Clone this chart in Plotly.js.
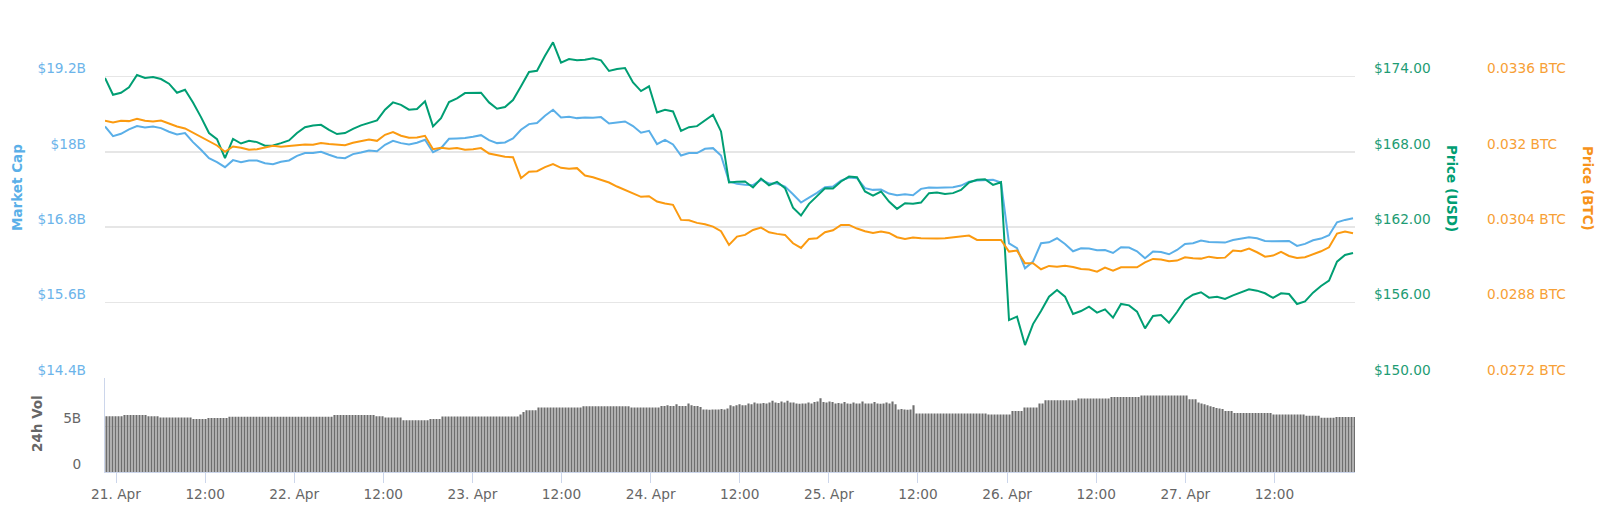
<!DOCTYPE html>
<html><head><meta charset="utf-8">
<script src="https://cdn.plot.ly/plotly-3.0.1.min.js"></script>
<style>html,body{margin:0;padding:0;background:#fff}#chart{width:1600px;height:507px}</style>
</head><body><div id="chart"></div>
<script>
// Market cap in billions USD
const mcapB = [
18.404,18.249,18.287,18.356,18.409,18.388,18.404,18.377,18.319,18.276,
18.297,18.154,18.032,17.899,17.835,17.755,17.867,17.835,17.862,17.862,
17.819,17.803,17.840,17.862,17.936,17.979,17.979,18.000,17.952,17.910,
17.899,17.963,17.989,18.021,18.010,18.111,18.175,18.138,18.117,18.143,
18.191,17.994,18.058,18.207,18.212,18.218,18.239,18.265,18.186,18.138,
18.149,18.212,18.350,18.441,18.457,18.574,18.669,18.547,18.558,18.536,
18.547,18.542,18.552,18.451,18.467,18.483,18.409,18.303,18.334,18.122,
18.191,18.117,17.941,17.979,17.979,18.048,18.058,17.941,17.527,17.490,
17.474,17.469,17.554,17.495,17.495,17.447,17.325,17.192,17.272,17.346,
17.437,17.447,17.543,17.591,17.580,17.421,17.394,17.400,17.336,17.309,
17.325,17.309,17.410,17.431,17.426,17.437,17.437,17.463,17.522,17.543,
17.543,17.554,17.511,16.544,16.465,16.146,16.252,16.544,16.560,16.624,
16.534,16.417,16.465,16.459,16.433,16.438,16.390,16.481,16.475,16.417,
16.305,16.412,16.406,16.369,16.438,16.534,16.544,16.587,16.566,16.566,
16.555,16.597,16.619,16.640,16.624,16.582,16.576,16.576,16.582,16.502,
16.534,16.592,16.619,16.672,16.879,16.916,16.943];

// Price in USD
const priceUsd = [
173.87,172.54,172.70,173.13,174.11,173.87,173.95,173.79,173.42,172.70,
172.94,171.93,170.76,169.49,169.01,167.49,169.03,168.66,168.88,168.77,
168.48,168.50,168.69,168.90,169.49,169.96,170.10,170.15,169.75,169.41,
169.49,169.83,170.10,170.31,170.50,171.35,171.93,171.74,171.35,171.40,
172.01,170.02,170.68,171.96,172.25,172.67,172.67,172.70,171.93,171.43,
171.56,172.12,173.21,174.35,174.45,175.65,176.71,175.09,175.38,175.28,
175.33,175.44,175.28,174.43,174.59,174.67,173.52,172.83,173.21,171.13,
171.35,171.21,169.67,169.96,170.04,170.47,170.95,169.62,165.56,165.61,
165.64,165.16,165.87,165.34,165.61,165.10,163.56,162.93,163.86,164.47,
165.10,165.08,165.64,166.03,165.98,164.84,164.52,164.84,164.04,163.46,
163.91,163.86,163.96,164.71,164.76,164.65,164.71,164.97,165.56,165.77,
165.82,165.37,165.58,154.61,154.88,152.62,154.29,155.33,156.47,157.00,
156.47,155.09,155.33,155.68,155.20,155.46,154.80,155.89,155.78,155.28,
153.95,154.93,155.01,154.40,155.25,156.21,156.63,156.82,156.39,156.47,
156.29,156.58,156.79,157.06,156.95,156.74,156.37,156.74,156.68,155.89,
156.10,156.79,157.32,157.75,159.26,159.79,159.95];

// Price in BTC
const priceBtc = [
0.032658,0.032623,0.032658,0.032651,0.032703,0.032658,0.032644,0.032665,0.032601,0.032538,
0.032495,0.032403,0.032304,0.032226,0.032134,0.032000,0.032113,0.032085,0.032042,0.032056,
0.032092,0.032127,0.032106,0.032127,0.032134,0.032155,0.032149,0.032184,0.032163,0.032155,
0.032141,0.032191,0.032219,0.032262,0.032233,0.032361,0.032418,0.032340,0.032297,0.032304,
0.032340,0.032056,0.032085,0.032063,0.032078,0.032042,0.032056,0.032078,0.031964,0.031922,
0.031894,0.031886,0.031440,0.031575,0.031589,0.031674,0.031738,0.031660,0.031639,0.031653,
0.031497,0.031461,0.031405,0.031348,0.031263,0.031192,0.031121,0.031044,0.031058,0.030944,
0.030902,0.030874,0.030555,0.030548,0.030491,0.030463,0.030413,0.030314,0.030024,0.030201,
0.030236,0.030342,0.030392,0.030292,0.030258,0.030236,0.030059,0.029959,0.030151,0.030165,
0.030292,0.030335,0.030449,0.030449,0.030371,0.030314,0.030279,0.030307,0.030279,0.030187,
0.030151,0.030180,0.030165,0.030158,0.030158,0.030165,0.030187,0.030201,0.030222,0.030130,
0.030130,0.030130,0.030130,0.029882,0.029903,0.029634,0.029634,0.029507,0.029578,0.029563,
0.029584,0.029556,0.029514,0.029500,0.029457,0.029542,0.029479,0.029549,0.029549,0.029549,
0.029655,0.029726,0.029712,0.029677,0.029691,0.029761,0.029740,0.029733,0.029775,0.029747,
0.029754,0.029903,0.029889,0.029946,0.029868,0.029775,0.029797,0.029875,0.029790,0.029747,
0.029761,0.029825,0.029889,0.029974,0.030264,0.030307,0.030272];

// 24h volume in billions USD
const vol24hB = [
6.1,6.1,6.1,6.1,6.1,6.1,
6.24,6.24,6.24,6.24,6.24,6.24,6.24,6.24,
6.1,6.1,6.1,6.1,
5.95,5.95,5.95,5.95,5.95,5.95,5.95,5.95,5.95,5.95,5.95,
5.8,5.8,5.8,5.8,5.8,
5.9,5.9,5.9,5.9,5.9,5.9,5.9,
6.05,6.05,6.05,6.05,6.05,6.05,6.05,6.05,6.05,6.05,6.05,6.05,6.05,6.05,6.05,6.05,6.05,6.05,
6.05,6.05,6.05,6.05,6.05,6.05,6.05,6.05,6.05,6.05,6.05,6.05,6.05,6.05,6.05,6.05,6.05,
6.24,6.24,6.24,6.24,6.24,6.24,6.24,6.24,6.24,6.24,6.24,6.24,6.24,6.24,
6.1,6.1,6.1,
5.95,5.95,5.95,5.95,5.95,5.95,
5.66,5.66,5.66,5.66,5.66,5.66,5.66,5.66,5.66,
5.8,5.8,5.8,5.8,
6.07,6.07,6.07,6.07,6.07,6.07,6.07,6.07,6.07,6.07,6.07,6.07,6.07,
6.07,6.07,6.07,6.07,6.07,6.07,6.07,6.07,6.07,6.07,6.07,6.07,6.07,
6.3,6.56,
6.75,6.75,6.75,6.75,
7.05,7.05,7.05,7.05,7.05,7.05,7.05,7.05,7.05,7.05,7.05,7.05,7.05,7.05,7.05,
7.19,7.19,7.19,7.19,7.19,7.19,7.19,7.19,7.19,7.19,7.19,7.19,7.19,7.19,7.19,7.19,
7.05,7.05,7.05,7.05,7.05,7.05,7.05,7.05,7.05,7.05,
7.22,7.22,7.3,7.22,7.22,7.4,7.22,7.22,7.22,7.48,7.3,7.22,7.22,7.1,
6.83,6.83,6.8,6.83,6.83,6.83,6.9,6.83,6.95,
7.3,7.2,7.3,7.4,7.3,7.3,
7.48,7.4,7.6,7.48,7.48,7.55,7.48,
7.6,7.8,7.6,7.55,7.7,7.6,7.8,7.6,7.6,
7.48,7.45,7.5,7.48,7.6,7.48,
7.66,7.7,8.06,7.66,7.6,7.7,7.66,
7.48,7.55,7.48,7.66,7.48,7.45,7.6,7.48,7.48,7.7,7.48,7.5,7.48,7.66,7.48,7.45,7.48,7.6,7.48,7.7,7.4,
6.83,6.9,6.83,6.8,6.83,
7.3,
6.39,6.39,6.39,6.39,6.39,6.39,6.39,6.39,6.39,6.39,6.39,6.39,
6.39,6.39,6.39,6.39,6.39,6.39,6.39,6.39,6.39,6.39,6.39,6.39,
6.28,6.28,6.28,6.28,6.28,6.28,6.28,6.28,
6.67,6.67,6.67,6.67,
7.05,7.05,7.05,7.05,7.05,
7.48,7.48,
7.85,7.85,7.85,7.85,7.85,7.85,7.85,7.85,7.85,7.85,7.85,
8.03,8.03,8.03,8.03,8.03,8.03,8.03,8.03,8.03,8.03,8.03,
8.2,8.2,8.2,8.2,8.2,8.2,8.2,8.2,8.2,8.2,
8.36,8.36,8.36,8.36,8.36,8.36,8.36,8.36,8.36,8.36,8.36,8.36,8.36,8.36,8.36,8.36,
7.95,7.95,7.95,
7.6,7.5,7.4,7.3,7.2,7.1,7.0,6.95,6.9,
6.67,6.67,6.67,
6.46,6.46,6.46,6.46,6.46,6.46,6.46,6.46,6.46,6.46,6.46,6.46,6.46,
6.28,6.28,6.28,6.28,6.28,6.28,6.28,6.28,6.28,6.28,6.28,
6.14,6.14,6.14,6.14,6.14,
5.92,5.92,5.92,5.92,5.92,
6.02,6.02,6.02,6.02,6.02,6.02,6.02];

// Axis ticks
const xTickLabels = ['21. Apr','12:00','22. Apr','12:00','23. Apr','12:00','24. Apr','12:00','25. Apr','12:00','26. Apr','12:00','27. Apr','12:00'];
const mcapTicks = [14.4, 15.6, 16.8, 18, 19.2, 20.4];
const mcapTickText = ['$14.4B','$15.6B','$16.8B','$18B','$19.2B',''];
const usdTicks = [150, 156, 162, 168, 174, 180];
const usdTickText = ['$150.00','$156.00','$162.00','$168.00','$174.00',''];
const btcTicks = [0.0272, 0.0288, 0.0304, 0.032, 0.0336, 0.0352];
const btcTickText = ['0.0272 BTC','0.0288 BTC','0.0304 BTC','0.032 BTC','0.0336 BTC',''];
const volTicks = [0, 5];
const volTickText = ['0', '5B'];

// Sampling of the series in time (hours after 21 Apr 2019 00:00)
const LINE_START_H = -1.4813, LINE_STEP_H = 1.07734;
const VOL_START_H = -1.279, VOL_STEP_H = 0.404;
const T0 = Date.UTC(2019, 3, 21, 0, 0, 0);
function hDate(h) { return new Date(T0 + h * 3600000).toISOString().slice(0, 19).replace('T', ' '); }
const lineTimes = mcapB.map((_, i) => hDate(LINE_START_H + i * LINE_STEP_H));
const volTimes = vol24hB.map((_, j) => hDate(VOL_START_H + j * VOL_STEP_H));
const xTickVals = xTickLabels.map((_, k) => hDate(12 * k));

const FONT = 'DejaVu Sans, Verdana, sans-serif';
const BLUE = '#5aafe8', GREEN = '#009e73', ORANGE = '#fb9a10';

const traces = [
  {type: 'bar', x: volTimes, y: vol24hB, xaxis: 'x', yaxis: 'y4', marker: {color: '#6e6e6e', line: {width: 0}}, hoverinfo: 'skip'},
  {type: 'scatter', mode: 'lines', x: lineTimes, y: mcapB, xaxis: 'x', yaxis: 'y', line: {color: BLUE, width: 2}},
  {type: 'scatter', mode: 'lines', x: lineTimes, y: priceBtc, xaxis: 'x', yaxis: 'y3', line: {color: ORANGE, width: 2}},
  {type: 'scatter', mode: 'lines', x: lineTimes, y: priceUsd, xaxis: 'x', yaxis: 'y2', line: {color: GREEN, width: 2}}
];

const tickF = (c) => ({family: FONT, size: 13.7, color: c});
const titleF = (c) => ({family: FONT, size: 13.5, color: c, weight: 'bold'});

const layout = {
  width: 1600, height: 507,
  margin: {l: 105, r: 245, t: 1, b: 35, pad: 0},
  paper_bgcolor: '#ffffff', plot_bgcolor: '#ffffff',
  showlegend: false, bargap: 0.3,
  xaxis: {
    type: 'date', anchor: 'y4',
    range: [hDate(-1.4813), hDate(166.85)],
    tickmode: 'array', tickvals: xTickVals, ticktext: xTickLabels,
    showgrid: false, zeroline: false,
    showline: true, linecolor: '#ccd6eb', linewidth: 1,
    ticks: 'outside', ticklen: 10, tickwidth: 1, tickcolor: '#ccd6eb',
    tickfont: tickF('#666666')
  },
  yaxis: {
    domain: [0.1996, 1], range: [14.4, 20.4], anchor: 'x',
    tickmode: 'array', tickvals: mcapTicks, ticktext: mcapTickText,
    showgrid: true, gridcolor: '#e6e6e6', gridwidth: 1.5,
    zeroline: false, showline: false, ticks: '',
    tickfont: tickF('#6cb4ea'), ticklabelstandoff: 18, ticklabelshift: -8
  },
  yaxis2: {
    overlaying: 'y', side: 'right', anchor: 'x', range: [150, 180],
    tickmode: 'array', tickvals: usdTicks, ticktext: usdTickText,
    showgrid: false, zeroline: false, showline: false, ticks: '',
    tickfont: tickF('#1e9c74'), ticklabelstandoff: 18, ticklabelshift: -8
  },
  yaxis3: {
    overlaying: 'y', side: 'right', anchor: 'free', position: 1, autoshift: false, shift: 113,
    range: [0.0272, 0.0352],
    tickmode: 'array', tickvals: btcTicks, ticktext: btcTickText,
    showgrid: false, zeroline: false, showline: false, ticks: '',
    tickfont: tickF('#f7a035'), ticklabelstandoff: 18, ticklabelshift: -8
  },
  yaxis4: {
    domain: [0, 0.2], range: [0, 10.3], anchor: 'x',
    tickmode: 'array', tickvals: volTicks, ticktext: volTickText,
    showgrid: true, gridcolor: '#e6e6e6', gridwidth: 1,
    zeroline: false, showline: true, linecolor: '#ccd6eb', linewidth: 1, ticks: '',
    tickfont: tickF('#666666'), ticklabelstandoff: 20, ticklabelshift: -8
  },
  annotations: [
    {text: 'Market Cap', xref: 'paper', yref: 'paper', x: -0.0704, y: 0.603, textangle: -90, showarrow: false, font: titleF('#5aafe8'), xanchor: 'center', yanchor: 'middle'},
    {text: '24h Vol', xref: 'paper', yref: 'paper', x: -0.0544, y: 0.102, textangle: -90, showarrow: false, font: titleF('#666666'), xanchor: 'center', yanchor: 'middle'},
    {text: 'Price (USD)', xref: 'paper', yref: 'paper', x: 1.0776, y: 0.601, textangle: 90, showarrow: false, font: titleF(GREEN), xanchor: 'center', yanchor: 'middle'},
    {text: 'Price (BTC)', xref: 'paper', yref: 'paper', x: 1.1864, y: 0.601, textangle: 90, showarrow: false, font: titleF('#f7931a'), xanchor: 'center', yanchor: 'middle'}
  ]
};

Plotly.newPlot('chart', traces, layout, {displayModeBar: false, staticPlot: true});
</script>
</body></html>
